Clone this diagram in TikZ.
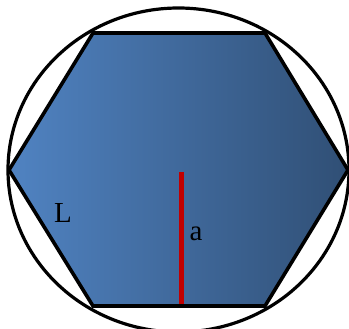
\documentclass[tikz,border=0pt]{standalone}
\usepackage{fontspec}
\setmainfont{Liberation Serif}
\definecolor{hexleft}{RGB}{80,131,194}
\definecolor{hexright}{RGB}{48,79,117}
\definecolor{redline}{RGB}{192,0,0}
\begin{document}
\begin{tikzpicture}[x=1pt,y=-1pt,
  outline/.style={line width=3.6pt,line join=miter},
  lbl/.style={font=\fontsize{29}{29}\selectfont,inner sep=0pt}]
\useasboundingbox (0,0) rectangle (349,329);
\coordinate (A) at (93,33);
\coordinate (B) at (265,33);
\coordinate (C) at (348,170);
\coordinate (D) at (265,306);
\coordinate (E) at (93,306);
\coordinate (F) at (9,170);
\coordinate (O) at (181,172);
\coordinate (M) at (181,306);
\shade[left color=hexleft,right color=hexright] (A)--(B)--(C)--(D)--(E)--(F)--cycle;
\draw[line width=3.2pt] (178.5,170) ellipse [x radius=170.5, y radius=162];
\draw[redline,line width=5pt] (O)--(M);
\draw[outline] (A)--(B)--(C)--(D)--(E)--(F)--cycle;
\node[lbl] (L) at (63,213) {L};
\node[lbl] (a) at (196,234) {a};
\end{tikzpicture}
\end{document}
